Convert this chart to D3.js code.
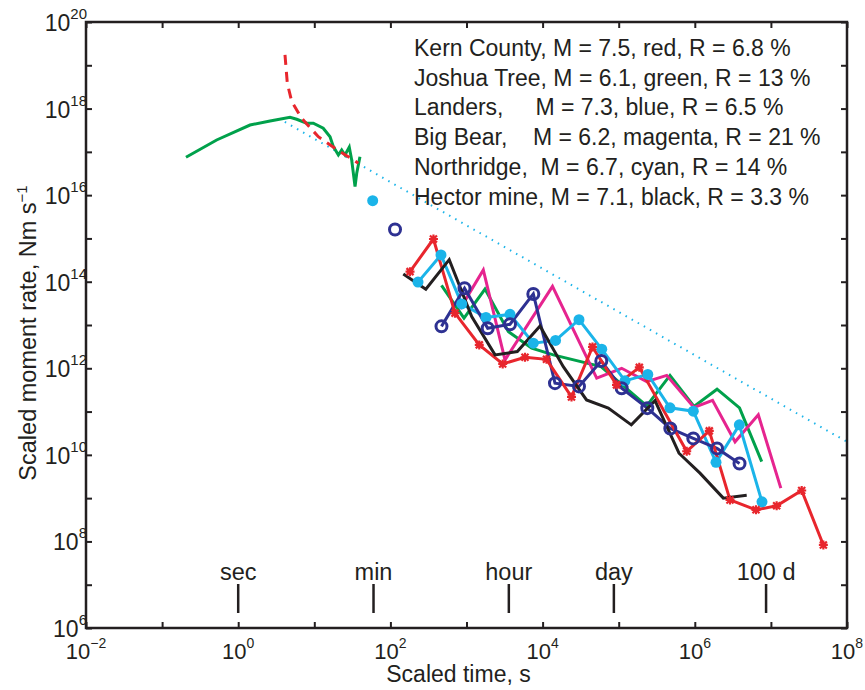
<html>
<head>
<meta charset="utf-8">
<style>
body { margin: 0; background: #fff; }
svg { font-family: "Liberation Sans", Arial, sans-serif; }
.frame { fill: none; stroke: #231f20; stroke-width: 2.5; }
.axis line { stroke: #231f20; stroke-width: 2; }
.axis path { display: none; }
.tick-lab { font-size: 22px; fill: #231f20; }
.series { fill: none; stroke-width: 3; stroke-linejoin: miter; }
.legend text { font-size: 23px; fill: #231f20; white-space: pre; }
</style>
</head>
<body>
<svg width="865" height="690"></svg>
<script src="https://cdn.jsdelivr.net/npm/d3@7"></script>
<script>

// decades on the axes
var xDecades = [1e-2, 1e-1, 1e0, 1e1, 1e2, 1e3, 1e4, 1e5, 1e6, 1e7, 1e8];
var yDecades = [1e6, 1e7, 1e8, 1e9, 1e10, 1e11, 1e12, 1e13, 1e14, 1e15, 1e16, 1e17, 1e18, 1e19, 1e20];
var xLabelExp = [-2, 0, 2, 4, 6, 8];
var yLabelExp = [6, 8, 10, 12, 14, 16, 18, 20];

// time markers
var markNames = ["sec", "min", "hour", "day", "100 d"];
var markTimes = [1, 60, 3600, 86400, 8640000];

// reference line (slope -1)
var refT = [4.1, 1e8];
var refRate = [4.9e17, 2.0e10];

// Kern County (red)
var kernEarlyT = [4.12, 4.42, 5.05, 6.83, 11.3, 18.7, 37.9];
var kernEarlyR = [1.73e19, 3.84e18, 1.45e18, 5.97e17, 2.24e17, 1.21e17, 5.46e16];
var kernT = [181, 368, 706, 1472, 2990, 5870, 11250, 23980, 45260, 93540, 186600, 783000, 1.55e6, 2.9e6, 6.37e6, 1.19e7, 2.54e7, 4.89e7];
var kernR = [1.71e14, 9.7e14, 1.88e13, 3.47e12, 1.26e12, 1.8e12, 1.61e12, 2.18e11, 3.12e12, 4.14e11, 1.05e12, 1.21e10, 3.58e10, 9.1e8, 5.37e8, 6.64e8, 1.5e9, 8.3e7];

// Joshua Tree (green)
var joshEarlyT = [0.206, 0.521, 1.43, 2.62, 4.80, 5.87, 7.94, 9.70, 13.1, 16.1, 17.8, 20.7, 22.9, 25.3, 28.8, 31.0, 34.3, 36.1, 39.8];
var joshEarlyR = [7.5e16, 1.88e17, 4.17e17, 5.17e17, 6.31e17, 5.66e17, 4.58e17, 4.58e17, 3.51e17, 2.24e17, 1.32e17, 8.48e16, 1.11e17, 8.48e16, 1.28e17, 6.5e16, 1.57e16, 3.2e16, 7.74e16];
var joshT = [469, 927, 1750, 3540, 7190, 13830, 58500, 233300, 472000, 976000, 1.96e6, 3.87e6, 7.57e6];
var joshR = [8.2e13, 1.44e13, 6.75e13, 7.05e12, 2.91e12, 2.04e12, 1.09e12, 1.36e11, 6.86e11, 1.32e11, 3.29e11, 1.22e11, 7.0e9];

// Landers (blue)
var landT = [115, 469, 942, 1900, 3730, 7550, 14550, 30070, 59060, 109400, 237600, 476500, 955500, 1.96e6, 3.87e6];
var landR = [1.61e15, 9.3e12, 7.08e13, 8.4e12, 1.04e13, 5.22e13, 4.53e11, 3.82e11, 1.48e12, 3.47e11, 1.2e11, 4.07e10, 2.4e10, 1.41e10, 6.3e9];

// Big Bear (magenta)
var bearT = [822, 1663, 3205, 13490, 51400, 109400, 233300, 427500, 976000, 1.71e6, 3.38e6, 6.83e6, 1.35e7];
var bearR = [2.36e13, 1.87e14, 1.56e12, 7.79e13, 5.9e11, 1.0e12, 4.93e11, 6.86e11, 1.25e11, 1.82e11, 2.0e10, 8.4e10, 1.7e9];

// Northridge (cyan)
var northT = [58.5, 230.5, 462, 865, 1803, 3730, 7550, 14790, 30070, 59840, 121000, 241100, 472000, 955500, 1.9e6, 3.85e6, 7.64e6];
var northR = [7.46e15, 9.8e13, 4.16e14, 3.07e13, 1.5e13, 1.76e13, 3.8e12, 4.41e12, 1.33e13, 2.77e12, 5.12e11, 7.23e11, 1.22e11, 1.02e11, 6.71e9, 4.93e10, 8.2e8];

// Hector Mine (black)
var hectT = [147.7, 292, 593, 1170, 2370, 4650, 9250, 18700, 37760, 72980, 146500, 300000, 620000, 1.17e6, 2.37e6, 4.81e6];
var hectR = [1.5e14, 6.71e13, 3.24e14, 1.56e13, 2.04e12, 2.43e12, 9.5e12, 1.09e12, 1.86e11, 1.2e11, 4.93e10, 1.79e11, 1.09e10, 3.78e9, 1.0e9, 1.16e9];

var legendLines = [
  "Kern County, M = 7.5, red, R = 6.8 %",
  "Joshua Tree, M = 6.1, green, R = 13 %",
  "Landers,     M = 7.3, blue, R = 6.5 %",
  "Big Bear,    M = 6.2, magenta, R = 21 %",
  "Northridge,  M = 6.7, cyan, R = 14 %",
  "Hector mine, M = 7.1, black, R = 3.3 %"
];

var RED = "#e8262d", GREEN = "#00a14b", BLUE = "#2e3192", MAGENTA = "#e6248f", CYAN = "#1bb4e9", BLACK = "#231f20";

var svg = d3.select("svg"),
    margin = {top: 22, right: 18, bottom: 62, left: 86},
    width = +svg.attr("width") - margin.left - margin.right,
    height = +svg.attr("height") - margin.top - margin.bottom;

var x = d3.scaleLog().domain([1e-2, 1e8]).range([margin.left, margin.left + width]);
var y = d3.scaleLog().domain([1e6, 1e20]).range([margin.top + height, margin.top]);

var zip = function(t, r) { return t.map(function(d, i) { return [d, r[i]]; }); };
var line = d3.line().x(function(d) { return x(d[0]); }).y(function(d) { return y(d[1]); });

var plot = svg.append("g");
plot.append("clipPath").attr("id", "clip")
  .append("rect").attr("x", margin.left).attr("y", margin.top).attr("width", width).attr("height", height);

// ticks inward on all four sides
svg.append("g").attr("class", "axis")
  .attr("transform", "translate(0," + (margin.top + height) + ")")
  .call(d3.axisBottom(x).tickValues(xDecades).tickSize(-6).tickFormat(""));
svg.append("g").attr("class", "axis")
  .attr("transform", "translate(0," + margin.top + ")")
  .call(d3.axisTop(x).tickValues(xDecades).tickSize(-6).tickFormat(""));
svg.append("g").attr("class", "axis")
  .attr("transform", "translate(" + margin.left + ",0)")
  .call(d3.axisLeft(y).tickValues(yDecades).tickSize(-6).tickFormat(""));
svg.append("g").attr("class", "axis")
  .attr("transform", "translate(" + (margin.left + width) + ",0)")
  .call(d3.axisRight(y).tickValues(yDecades).tickSize(-6).tickFormat(""));

// tick labels with superscripts
var xl = svg.selectAll(".xlab").data(xLabelExp).enter().append("text")
  .attr("class", "tick-lab")
  .attr("x", function(d) { return x(Math.pow(10, d)); })
  .attr("y", 659)
  .attr("text-anchor", "middle");
xl.append("tspan").text("10");
xl.append("tspan").attr("dy", -11).style("font-size", "14px")
  .text(function(d) { return d < 0 ? "\u2212" + (-d) : d; });

var yl = svg.selectAll(".ylab").data(yLabelExp).enter().append("text")
  .attr("class", "tick-lab")
  .style("font-size", "23px")
  .attr("x", 87)
  .attr("y", function(d) { return y(Math.pow(10, d)) + 9; })
  .attr("text-anchor", "end");
yl.append("tspan").text("10");
yl.append("tspan").attr("dy", -12).style("font-size", "15px").text(function(d) { return d; });

// axis titles
svg.append("text")
  .attr("transform", "translate(36," + (margin.top + height / 2 + 8) + ") rotate(-90)")
  .attr("text-anchor", "middle")
  .style("font-size", "23.5px").style("fill", BLACK)
  .call(function(t) {
    t.append("tspan").text("Scaled moment rate, Nm s");
    t.append("tspan").attr("dy", -9).style("font-size", "15px").text("\u22121");
  });
svg.append("text")
  .attr("x", x(1e3) - 8).attr("y", 682)
  .attr("text-anchor", "middle")
  .style("font-size", "23px").style("fill", BLACK)
  .text("Scaled time, s");

var g = plot.append("g").attr("clip-path", "url(#clip)");

// reference line
g.append("path").datum(zip(refT, refRate)).attr("d", line)
  .attr("fill", "none").attr("stroke", CYAN).attr("stroke-width", 2)
  .attr("stroke-dasharray", "1.5,5.5");

// time markers
var tm = svg.selectAll(".tm").data(markTimes).enter().append("g");
tm.append("line")
  .attr("x1", function(d) { return x(d); }).attr("x2", function(d) { return x(d); })
  .attr("y1", 584).attr("y2", 613)
  .attr("stroke", BLACK).attr("stroke-width", 2.5);
tm.append("text")
  .attr("x", function(d) { return x(d); }).attr("y", 580)
  .attr("text-anchor", "middle")
  .style("font-size", "23.5px").style("fill", BLACK)
  .text(function(d, i) { return markNames[i]; });

var drawLine = function(data, color, extra) {
  var p = g.append("path").datum(data).attr("class", "series")
    .attr("d", line).attr("stroke", color);
  if (extra) extra(p);
  return p;
};

// Joshua Tree early (green) and Kern early (dashed red)
drawLine(zip(joshEarlyT, joshEarlyR), GREEN, function(p) { p.attr("stroke-linejoin", "round"); });
drawLine(zip(kernEarlyT, kernEarlyR), RED, function(p) { p.attr("stroke-dasharray", "10,7").attr("stroke-width", 3.5); });

// later series
drawLine(zip(joshT, joshR), GREEN);
drawLine(zip(bearT, bearR), MAGENTA);
var north = zip(northT, northR);
drawLine(north.slice(1), CYAN);
var land = zip(landT, landR);
drawLine(land.slice(1), BLUE);
var kern = zip(kernT, kernR);
drawLine(kern, RED);
drawLine(zip(hectT, hectR), BLACK);

// markers
g.selectAll(".cdot").data(north).enter().append("circle")
  .attr("cx", function(d) { return x(d[0]); }).attr("cy", function(d) { return y(d[1]); })
  .attr("r", 5.5).attr("fill", CYAN);

g.selectAll(".bcirc").data(land).enter().append("circle")
  .attr("cx", function(d) { return x(d[0]); }).attr("cy", function(d) { return y(d[1]); })
  .attr("r", 5.5).attr("fill", "none").attr("stroke", BLUE).attr("stroke-width", 3);

var star = "M-4.5,0L4.5,0M0,-4.5L0,4.5M-3.5,-3.5L3.5,3.5M-3.5,3.5L3.5,-3.5";
g.selectAll(".rstar").data(kern).enter().append("path")
  .attr("transform", function(d) { return "translate(" + x(d[0]) + "," + y(d[1]) + ")"; })
  .attr("d", star).attr("stroke", RED).attr("stroke-width", 2.2).attr("fill", "none");

// frame
svg.append("rect").attr("class", "frame")
  .attr("x", margin.left).attr("y", margin.top).attr("width", width).attr("height", height);

// legend text
svg.append("g").attr("class", "legend").selectAll("text").data(legendLines).enter().append("text")
  .attr("xml:space", "preserve")
  .attr("x", 414).attr("y", function(d, i) { return 56 + i * 29.7; })
  .text(function(d) { return d; });

</script>
</body>
</html>
